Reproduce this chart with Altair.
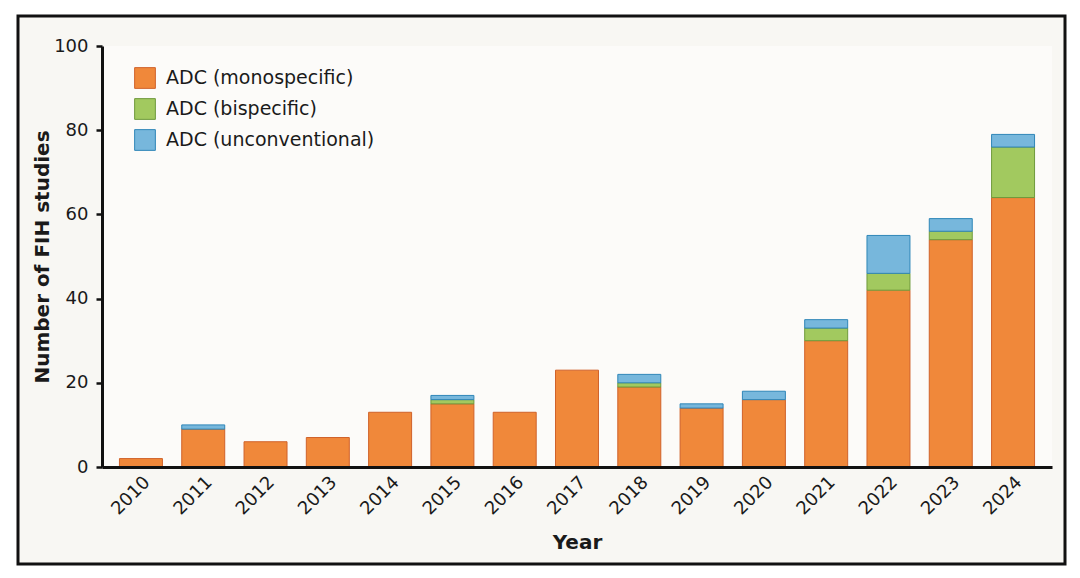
import altair as alt
import pandas as pd

years = [str(y) for y in range(2010, 2025)]
mono = [2, 9, 6, 7, 13, 15, 13, 23, 19, 14, 16, 30, 42, 54, 64]
bisp = [0, 0, 0, 0, 0, 1, 0, 0, 1, 0, 0, 3, 4, 2, 12]
unconv = [0, 1, 0, 0, 0, 1, 0, 0, 2, 1, 2, 2, 9, 3, 3]

types = ["ADC (monospecific)", "ADC (bispecific)", "ADC (unconventional)"]
fills = ["#f0883a", "#a2c95f", "#77b7dc"]
strokes = ["#d0622a", "#6f9a3c", "#2f86b8"]

rows = []
for i, y in enumerate(years):
    for k, (t, v) in enumerate(zip(types, [mono[i], bisp[i], unconv[i]])):
        if v > 0:
            rows.append({"Year": y, "type": t, "value": v, "order": k})
df = pd.DataFrame(rows)

W, H = 950, 421
FONT = "DejaVu Sans"

frame = alt.Chart(pd.DataFrame({"a": [0]})).mark_rect(
    fill="#f8f7f3", stroke="#111111", strokeWidth=3
).encode(
    x=alt.value(-84), x2=alt.value(963), y=alt.value(-30), y2=alt.value(H + 97)
)

plotbg = alt.Chart(pd.DataFrame({"a": [0]})).mark_rect(
    fill="#fcfbf9"
).encode(
    x=alt.value(0), x2=alt.value(W), y=alt.value(0), y2=alt.value(H)
)

legend = alt.Legend(
    title=None, orient="none", legendX=32, legendY=21,
    symbolType="square", symbolSize=430, symbolStrokeWidth=1,
    labelFontSize=19, labelFont=FONT, labelColor="#1a1a1a", labelLimit=0,
    rowPadding=5, labelOffset=10, zindex=2
)

bars = alt.Chart(df).mark_bar(strokeWidth=1).encode(
    x=alt.X("Year:N", sort=years,
            scale=alt.Scale(paddingInner=0.31, paddingOuter=0.28),
            axis=alt.Axis(title="Year", labelAngle=-45, ticks=False,
                          labelFontSize=18, labelFont=FONT, labelColor="#1a1a1a",
                          labelPadding=6, domainColor="#111111", domainWidth=3,
                          titleFontSize=20, titleFont=FONT, titleFontWeight="bold",
                          titleColor="#1a1a1a", titlePadding=14, zindex=2)),
    y=alt.Y("value:Q", stack="zero",
            scale=alt.Scale(domain=[0, 100]),
            axis=alt.Axis(title="Number of FIH studies", values=[0, 20, 40, 60, 80, 100],
                          grid=False, tickSize=6, tickWidth=2.5, tickColor="#111111",
                          domainColor="#111111", domainWidth=3,
                          labelFontSize=18, labelFont=FONT, labelColor="#1a1a1a",
                          labelPadding=8,
                          titleFontSize=20, titleFont=FONT, titleFontWeight="bold",
                          titleColor="#1a1a1a", titlePadding=1, zindex=2)),
    fill=alt.Fill("type:N", sort=types,
                  scale=alt.Scale(domain=types, range=fills), legend=legend),
    stroke=alt.Stroke("type:N", sort=types,
                      scale=alt.Scale(domain=types, range=strokes), legend=legend),
    order=alt.Order("order:Q", sort="ascending"),
)

chart = alt.layer(frame, plotbg, bars).properties(
    width=W, height=H,
    autosize=alt.AutoSizeParams(type="none"),
    padding={"left": 94, "top": 38, "right": 20, "bottom": 100},
    background="#ffffff",
).configure_view(stroke=None)

chart.save("out.html", embed_options={"renderer": "svg", "actions": False})
